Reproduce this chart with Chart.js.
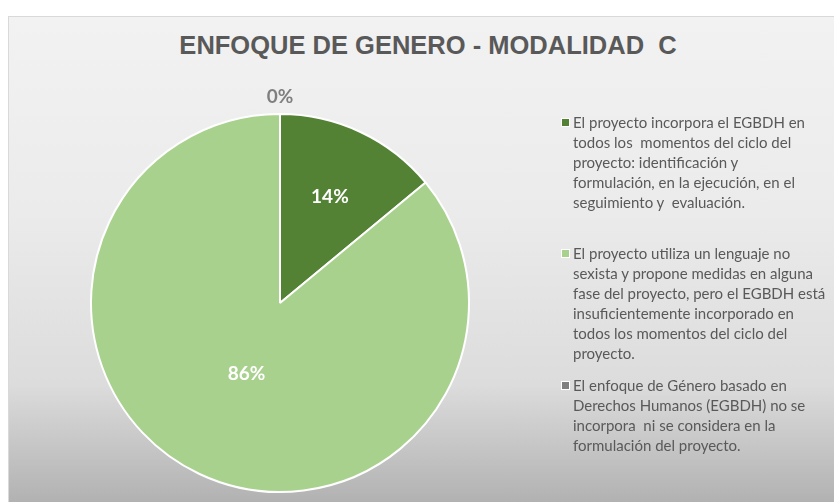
<!DOCTYPE html>
<html>
<head>
<meta charset="utf-8">
<script src="https://cdn.jsdelivr.net/npm/chart.js@4"></script>
<style>
  body { margin: 0; background: #fff; }
  #wrap { position: relative; width: 834px; height: 502px; overflow: hidden; }
  #panel {
    position: absolute; left: 8px; top: 16px; width: 830px; height: 490px;
    border: 1px solid #d9d9d9;
    background: linear-gradient(#f2f2f2 0%, #ebebeb 40%, #dcdcdc 75%, #b0b0b0 100%);
  }
  #title {
    position: absolute; top: 30px; left: 428px; transform: translateX(-50%);
    font: bold 25.5px "Liberation Sans", Arial, sans-serif; line-height: 30px;
    color: #595959; white-space: pre;
  }
  #chart { position: absolute; left: 0; top: 0; }
  .item { position: absolute; left: 561px; font: 15px Lato, sans-serif; line-height: 20px; color: #595959; }
  .item .box { position: absolute; left: 0; top: 6px; width: 7px; height: 7px; border: 1px solid #fff; }
  .item .txt { position: absolute; left: 12px; top: 0; white-space: pre; }
</style>
</head>
<body>
<div id="wrap">
  <div id="panel"></div>
  <div id="title">ENFOQUE DE GENERO - MODALIDAD  C</div>
  <canvas id="chart" width="834" height="502"></canvas>
  <div id="legend"></div>
</div>
<script>
// categories (line breaks as in the original legend)
var categories = [
  "El proyecto incorpora el EGBDH en\ntodos los  momentos del ciclo del\nproyecto: identificación y\nformulación, en la ejecución, en el\nseguimiento y  evaluación.",
  "El proyecto utiliza un lenguaje no\nsexista y propone medidas en alguna\nfase del proyecto, pero el EGBDH está\ninsuficientemente incorporado en\ntodos los momentos del ciclo del\nproyecto.",
  "El enfoque de Género basado en\nDerechos Humanos (EGBDH) no se\nincorpora  ni se considera en la\nformulación del proyecto."
];
// share of projects, in percent
var values = [14, 86, 0];

var colors = ['#548235', '#a9d18e', '#808080'];
var labelColors = ['#ffffff', '#ffffff', '#7f7f7f'];
var labelRadius = [0.62, 0.415, 1.09];   // fraction of the pie radius
var legendTop = [112, 243, 375];

// percent labels on the slices
var pctLabels = {
  id: 'pctLabels',
  afterDatasetsDraw: function(chart) {
    var ctx = chart.ctx;
    var meta = chart.getDatasetMeta(0);
    var data = chart.data.datasets[0].data;
    var total = data.reduce(function(a, b) { return a + b; }, 0);
    ctx.save();
    ctx.font = 'bold 19px Lato, sans-serif';
    ctx.textAlign = 'center';
    ctx.textBaseline = 'middle';
    meta.data.forEach(function(arc, i) {
      var mid = (arc.startAngle + arc.endAngle) / 2;
      var r = arc.outerRadius * labelRadius[i];
      ctx.fillStyle = labelColors[i];
      ctx.fillText(Math.round(data[i] / total * 100) + '%', arc.x + Math.cos(mid) * r, arc.y + Math.sin(mid) * r);
    });
    ctx.restore();
  }
};

var myChart = new Chart(document.getElementById('chart'), {
  type: 'pie',
  data: {
    labels: categories,
    datasets: [{
      data: values,
      backgroundColor: colors,
      borderColor: '#ffffff',
      borderWidth: 2
    }]
  },
  options: {
    responsive: false,
    animation: false,
    events: [],
    layout: { padding: { left: 90, right: 364, top: 113, bottom: 9 } },
    plugins: {
      legend: { display: false },
      tooltip: { enabled: false }
    }
  },
  plugins: [pctLabels]
});

// legend on the right, built from the chart's own legend items
var legendDiv = document.getElementById('legend');
myChart.options.plugins.legend.labels.generateLabels(myChart).forEach(function(item, i) {
  var el = document.createElement('div');
  el.className = 'item';
  el.style.top = legendTop[i] + 'px';
  el.innerHTML = '<div class="box" style="background:' + item.fillStyle + '"></div>';
  var t = document.createElement('div');
  t.className = 'txt';
  t.textContent = categories[i];
  el.appendChild(t);
  legendDiv.appendChild(el);
});
</script>
</body>
</html>
